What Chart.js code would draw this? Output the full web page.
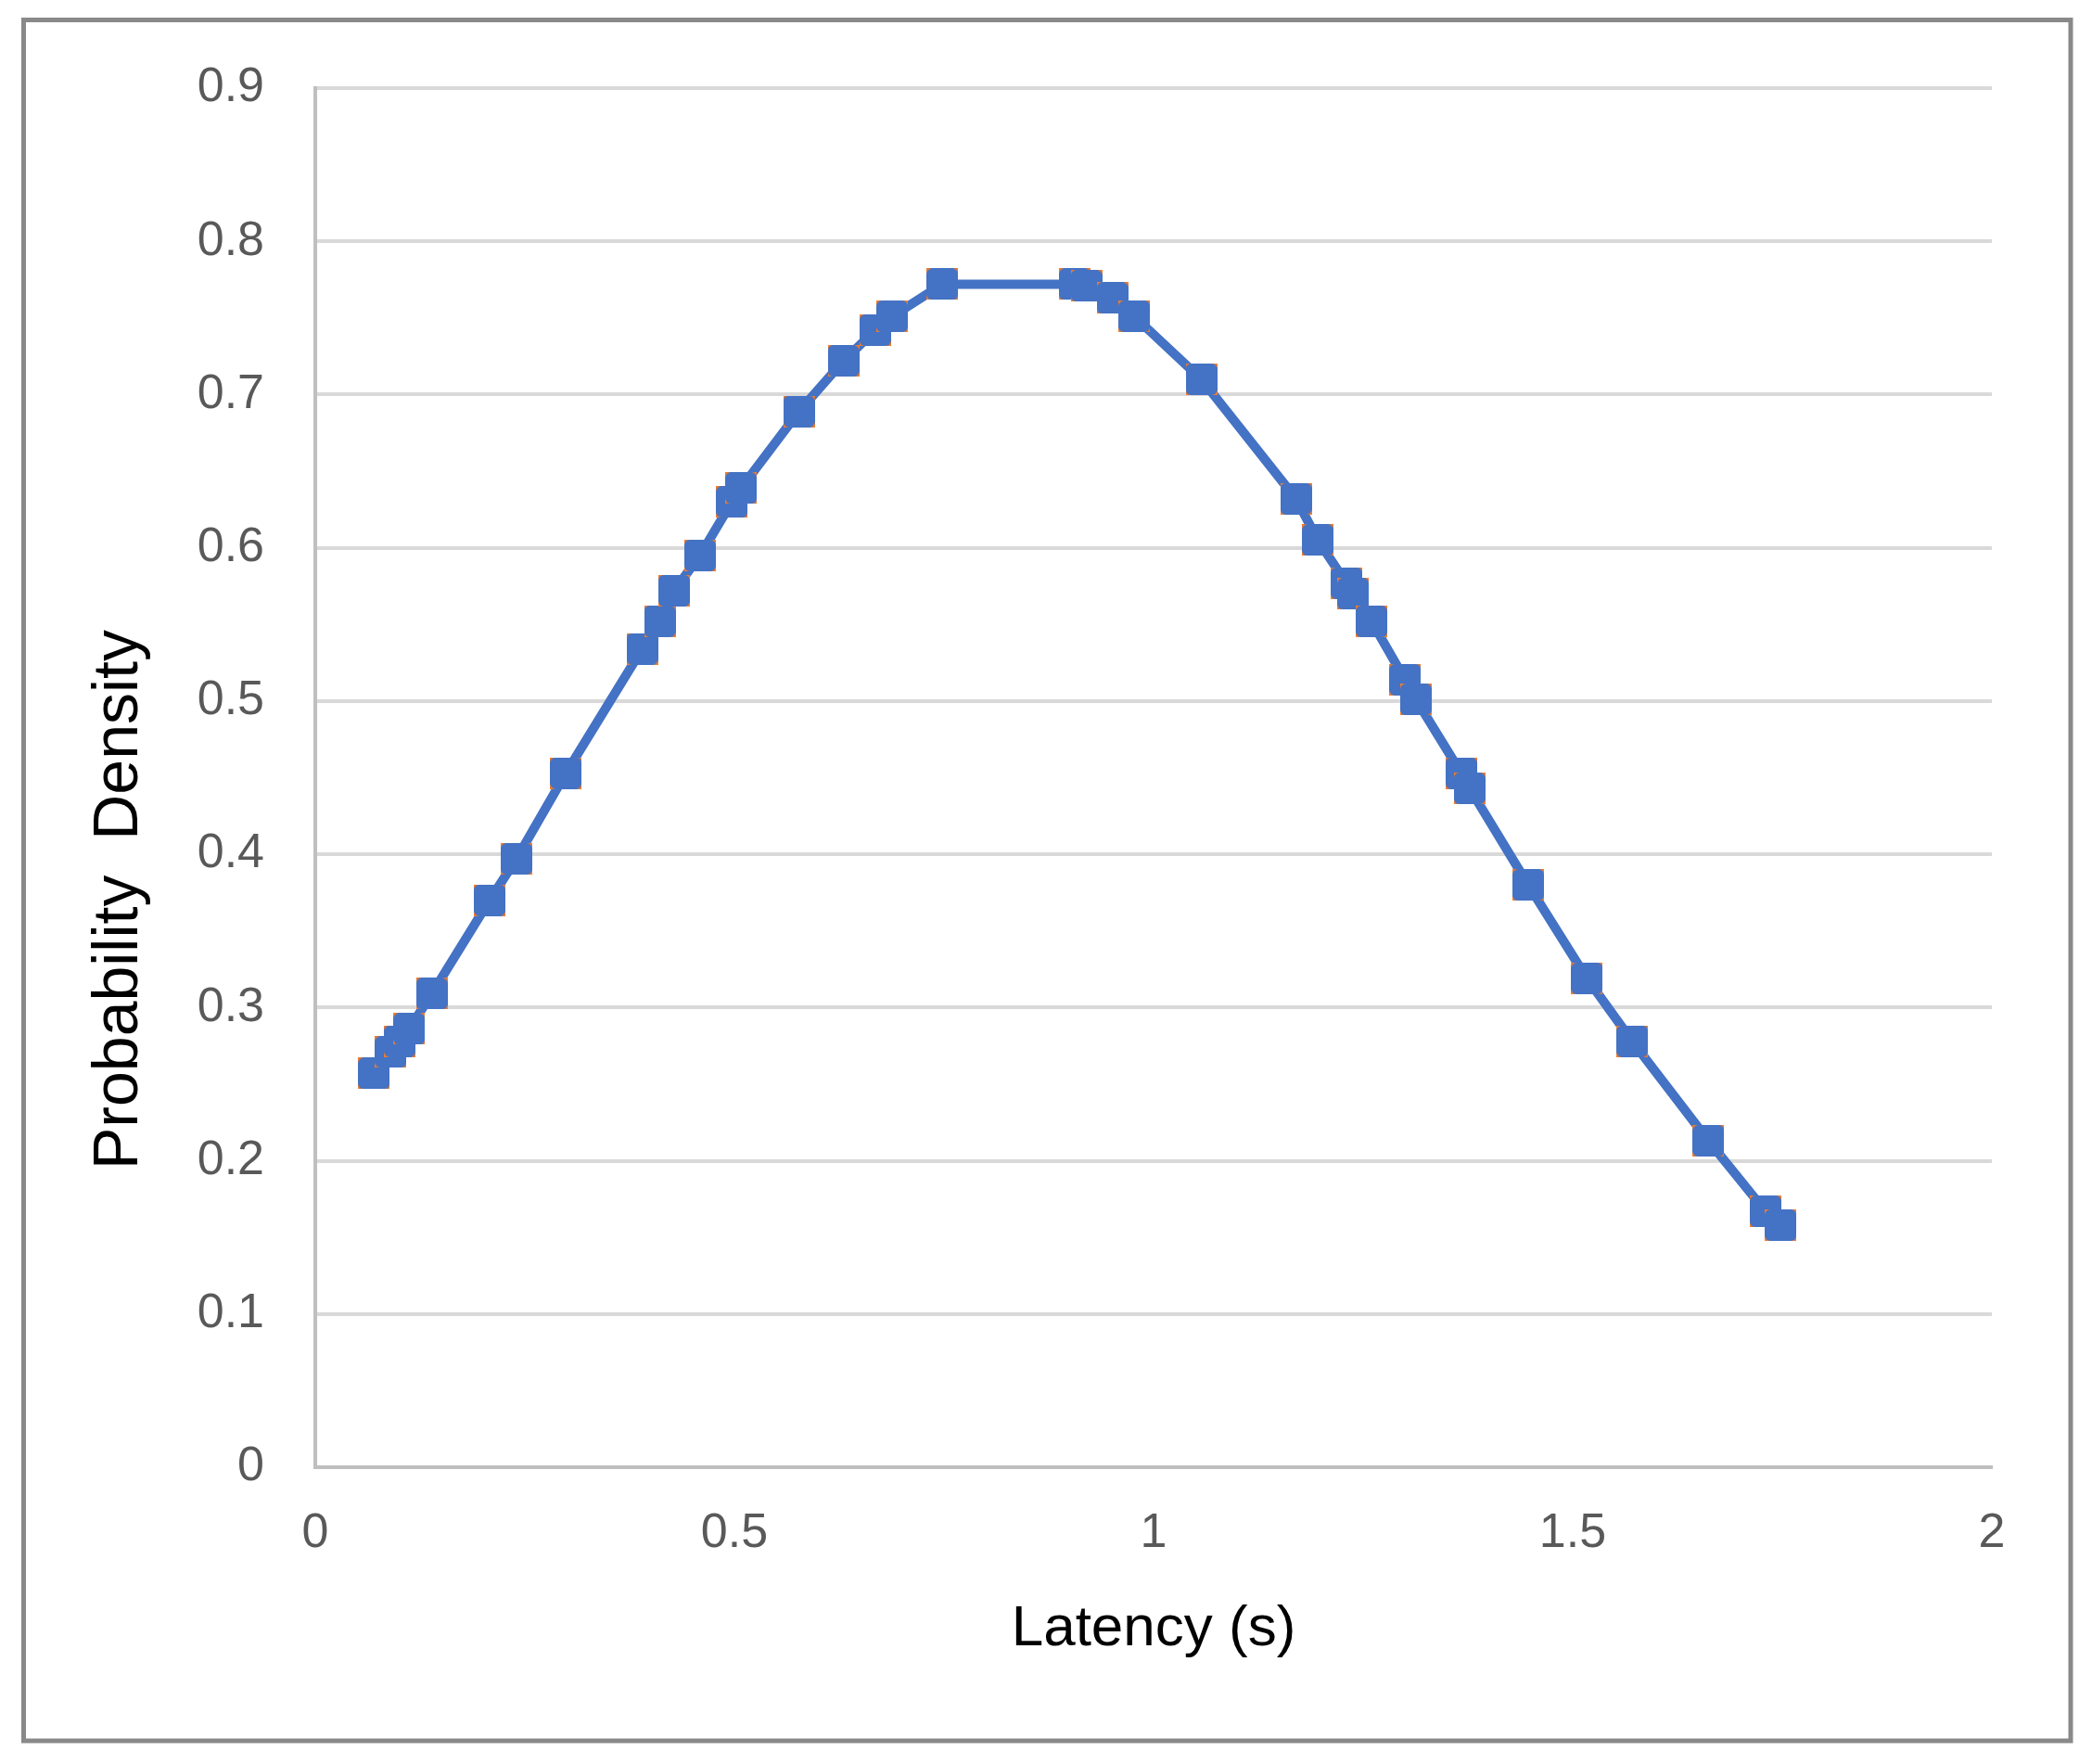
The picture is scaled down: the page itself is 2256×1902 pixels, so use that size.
<!DOCTYPE html>
<html>
<head>
<meta charset="utf-8">
<script src="https://cdn.jsdelivr.net/npm/chart.js@4"></script>
<style>
  html, body { margin: 0; padding: 0; background: #fff; }
  #wrap { width: 2256px; height: 1902px; }
</style>
</head>
<body>
<div id="wrap"><canvas id="pdf-chart" width="2256" height="1902"></canvas></div>
<script>
const latency = [
    0.070, 0.090, 0.101, 0.112, 0.139, 0.208, 0.240, 0.299, 0.390, 0.411,
    0.428, 0.459, 0.497, 0.508, 0.577, 0.630, 0.668, 0.688, 0.748, 0.906,
    0.920, 0.951, 0.977, 1.057, 1.170, 1.196, 1.230, 1.238, 1.260, 1.300,
    1.313, 1.367, 1.377, 1.447, 1.517, 1.571, 1.662, 1.730, 1.748
];
const density = [
    0.257, 0.271, 0.278, 0.286, 0.309, 0.370, 0.397, 0.453, 0.534, 0.552,
    0.572, 0.595, 0.630, 0.639, 0.689, 0.722, 0.742, 0.751, 0.772, 0.772,
    0.771, 0.763, 0.751, 0.710, 0.632, 0.605, 0.577, 0.570, 0.552, 0.514,
    0.501, 0.453, 0.443, 0.380, 0.319, 0.278, 0.213, 0.167, 0.158
];
const xTicks = [0, 0.5, 1, 1.5, 2];
const yTicks = [0, 0.1, 0.2, 0.3, 0.4, 0.5, 0.6, 0.7, 0.8, 0.9];
const xTitle = 'Latency (s)';
const yTitle = 'Probability  Density';

const colors = {
    line   : '#4472C4',
    under  : '#ED7D31',
    tick   : '#595959',
    title  : '#000000',
    grid   : '#d9d9d9',
    axis   : '#bfbfbf',
    frame  : '#898989'
};
const fontFamily = '"Liberation Sans", Arial, sans-serif';

// square marker, blue over an orange square (the orange shows at the corners)
const marker = document.createElement('canvas');
marker.width = 34;
marker.height = 34;
const mctx = marker.getContext('2d');
mctx.fillStyle = colors.under;
mctx.fillRect(0, 0, 34, 34);
mctx.fillStyle = colors.line;
mctx.beginPath();
mctx.roundRect(0, 0, 34, 34, 6);
mctx.fill();

const points = latency.map((x, i) => ({ x: x, y: density[i] }));

const frameAndTitle = {
    id: 'frameAndTitle',
    afterDraw(chart) {
        const ctx = chart.ctx;
        ctx.save();
        ctx.strokeStyle = colors.frame;
        ctx.lineWidth = 5;
        ctx.strokeRect(25.5, 21.5, 2207.5, 1855.5);

        ctx.fillStyle = colors.title;
        ctx.font = '68px ' + fontFamily;
        ctx.textAlign = 'center';
        ctx.textBaseline = 'alphabetic';
        ctx.translate(148, 970);
        ctx.rotate(-Math.PI / 2);
        ctx.fillText(yTitle, 0, 0);
        ctx.restore();
    }
};

const ctx = document.getElementById('pdf-chart').getContext('2d');
const chart = new Chart(ctx, {
    type: 'scatter',
    data: {
        datasets: [{
            label: 'density',
            data: points,
            showLine: true,
            borderColor: colors.line,
            backgroundColor: colors.line,
            borderWidth: 10,
            tension: 0,
            pointStyle: marker,
            pointRadius: 17,
            pointHoverRadius: 17
        }]
    },
    options: {
        responsive: false,
        animation: false,
        devicePixelRatio: 1,
        layout: {
            padding: { left: 0, top: 95, right: 108, bottom: 0 }
        },
        plugins: {
            legend: { display: false },
            tooltip: { enabled: false }
        },
        scales: {
            x: {
                type: 'linear',
                min: 0,
                max: 2,
                afterBuildTicks: scale => { scale.ticks = xTicks.map(v => ({ value: v })); },
                afterFit: scale => { scale.height = 320; },
                ticks: {
                    padding: 40,
                    color: colors.tick,
                    font: { family: fontFamily, size: 52 },
                    maxRotation: 0,
                    callback: v => String(v)
                },
                grid: { display: false, drawTicks: false },
                border: { color: colors.axis, width: 4 },
                title: {
                    display: true,
                    text: xTitle,
                    color: colors.title,
                    font: { family: fontFamily, size: 62 },
                    padding: { top: 0, bottom: 108 }
                }
            },
            y: {
                min: 0,
                max: 0.9,
                afterBuildTicks: scale => { scale.ticks = yTicks.map(v => ({ value: v })); },
                afterFit: scale => { scale.width = 340; },
                ticks: {
                    padding: 55,
                    color: colors.tick,
                    font: { family: fontFamily, size: 52 },
                    callback: v => String(v)
                },
                grid: { color: colors.grid, lineWidth: 4, drawTicks: false },
                border: { color: colors.axis, width: 4 }
            }
        }
    },
    plugins: [frameAndTitle]
});
</script>
</body>
</html>
